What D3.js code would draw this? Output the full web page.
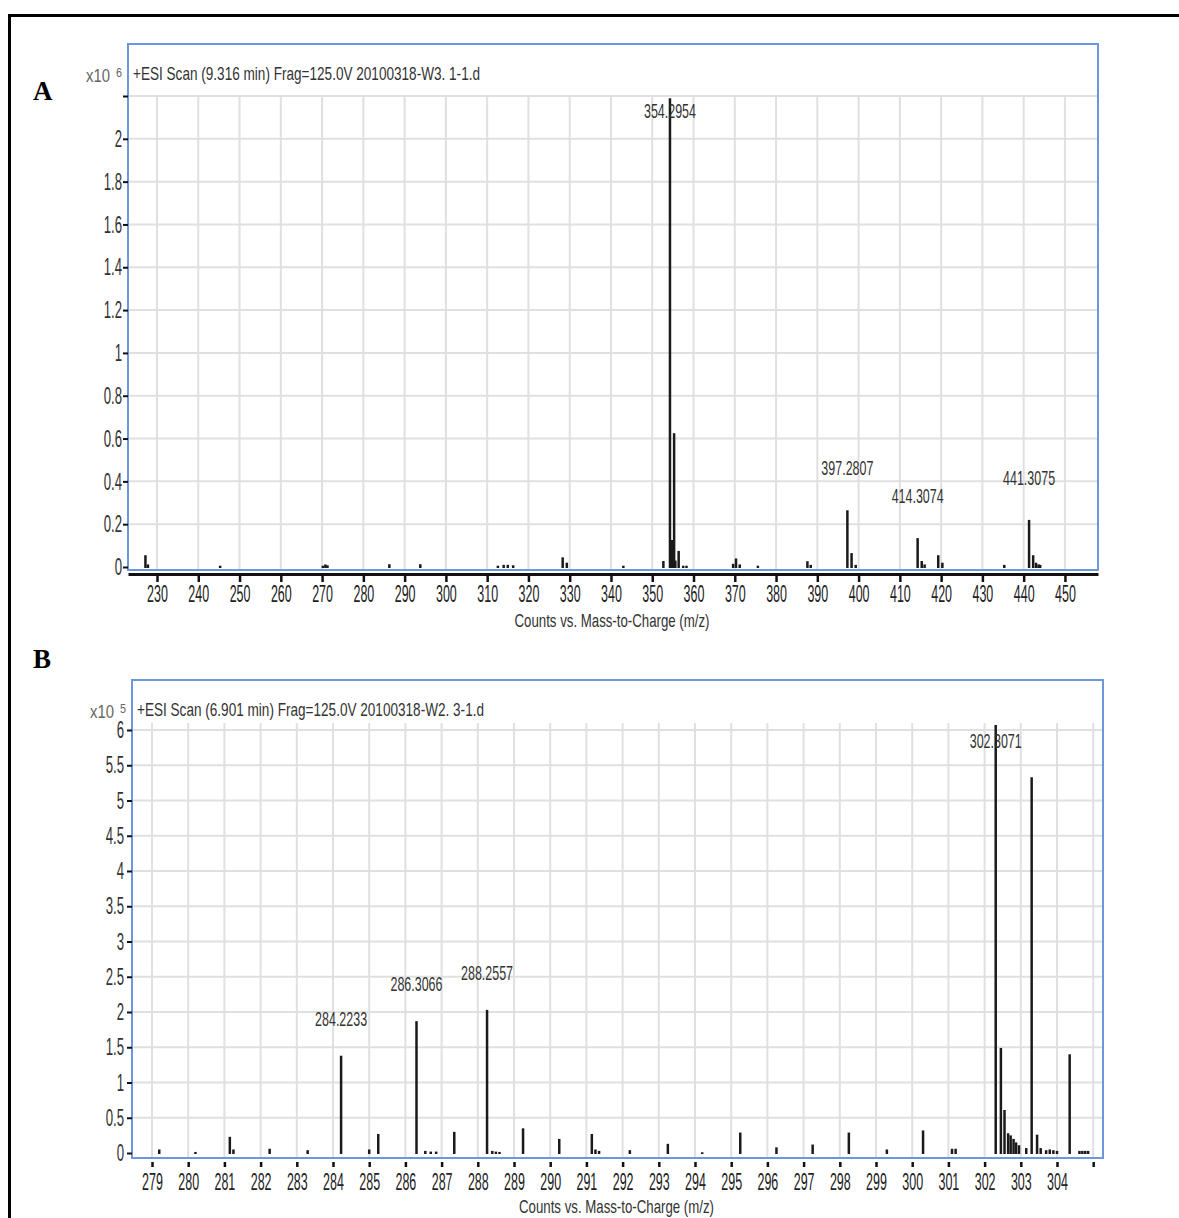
<!DOCTYPE html>
<html>
<head>
<meta charset="utf-8">
<script src="https://cdn.jsdelivr.net/npm/d3@7/dist/d3.min.js"></script>
<style>
  body { margin: 0; background: #fff; }
  svg { display: block; }
  text { font-family: "Liberation Sans", Arial, sans-serif; }
</style>
</head>
<body>
<svg id="chart" width="1179" height="1218"></svg>
<script>
// ---- panel A : +ESI Scan (9.316 min), counts x10^6 ----
const aTitle = "+ESI Scan (9.316 min) Frag=125.0V 20100318-W3. 1-1.d";
const aTickX = [230, 240, 250, 260, 270, 280, 290, 300, 310, 320, 330, 340, 350, 360, 370, 380, 390, 400, 410, 420, 430, 440, 450];
const aTickY = [0, 0.2, 0.4, 0.6, 0.8, 1, 1.2, 1.4, 1.6, 1.8, 2, 2.2];
const aMz = [227.2, 227.8, 245.3, 270.2, 270.8, 271.3, 286.3, 293.8, 312.6, 314.0, 315.0, 316.3, 328.3, 329.3, 343.0,
             352.7, 354.2954, 354.5, 354.8, 355.05, 355.3, 355.6, 356.4, 357.5, 358.3,
             369.6, 370.3, 371.2, 375.6, 387.6, 388.4, 397.2807, 398.3, 399.3,
             414.3074, 415.3, 416.0, 419.3, 420.3, 435.3, 441.3075, 442.3, 443.0, 443.6, 444.0];
const aInt = [0.055, 0.012, 0.006, 0.006, 0.012, 0.008, 0.013, 0.013, 0.006, 0.01, 0.01, 0.008, 0.045, 0.02, 0.006,
              0.028, 2.19, 0.126, 0.126, 0.12, 0.625, 0.03, 0.075, 0.006, 0.006,
              0.015, 0.04, 0.012, 0.006, 0.027, 0.01, 0.265, 0.065, 0.01,
              0.135, 0.028, 0.012, 0.055, 0.02, 0.01, 0.22, 0.055, 0.02, 0.012, 0.01];
const aLabels = ["354.2954", "397.2807", "414.3074", "441.3075"];

// ---- panel B : +ESI Scan (6.901 min), counts x10^5 ----
const bTitle = "+ESI Scan (6.901 min) Frag=125.0V 20100318-W2. 3-1.d";
const bTickX = [279, 280, 281, 282, 283, 284, 285, 286, 287, 288, 289, 290, 291, 292, 293, 294, 295, 296, 297, 298, 299, 300, 301, 302, 303, 304, 305];
const bTickY = [0, 0.5, 1, 1.5, 2, 2.5, 3, 3.5, 4, 4.5, 5, 5.5, 6];
const bMz = [279.2, 280.2, 281.15, 281.25, 282.25, 283.3, 284.2233, 285.0, 285.25, 286.3066, 286.55, 286.7, 286.85,
             287.35, 288.2557, 288.4, 288.5, 288.6, 289.25, 290.25, 291.15, 291.25, 291.35, 292.2, 293.25, 294.2,
             295.25, 296.25, 297.25, 298.25, 299.3, 300.3, 301.1, 301.2,
             302.3071, 302.45, 302.55, 302.65, 302.72, 302.8, 302.87, 302.95, 303.15, 303.3, 303.45, 303.55,
             303.7, 303.8, 303.9, 304.0, 304.35, 304.62, 304.7, 304.78, 304.86];
const bInt = [0.05, 0.015, 0.23, 0.05, 0.06, 0.04, 1.38, 0.05, 0.27, 1.87, 0.03, 0.02, 0.02,
              0.3, 2.03, 0.03, 0.02, 0.015, 0.35, 0.2, 0.27, 0.05, 0.03, 0.04, 0.13, 0.01,
              0.29, 0.08, 0.12, 0.29, 0.05, 0.32, 0.06, 0.06,
              6.07, 1.49, 0.61, 0.28, 0.25, 0.2, 0.15, 0.11, 0.07, 5.33, 0.26, 0.07,
              0.04, 0.05, 0.04, 0.03, 1.4, 0.03, 0.03, 0.03, 0.03];
const bLabels = ["302.3071", "284.2233", "286.3066", "288.2557"];

const svg = d3.select("#chart");

// outer frame of the figure
svg.append("path")
  .attr("d", "M9.5,1218 V15.5 H1179")
  .attr("fill", "none").attr("stroke", "#000").attr("stroke-width", 3);

// panel letters
svg.append("text").attr("x", 33).attr("y", 100).text("A")
  .style("font-family", "'Liberation Serif', serif").style("font-weight", "bold").style("font-size", "27px");
svg.append("text").attr("x", 33).attr("y", 668).text("B")
  .style("font-family", "'Liberation Serif', serif").style("font-weight", "bold").style("font-size", "27px");

// squeeze text horizontally (the instrument font is very narrow)
function squeeze(sel, sx, x0) {
  sel.attr("transform", `scale(${sx},1)`).attr("x", x0 / sx);
}

function drawPanel(o) {
  const x = d3.scaleLinear().domain(o.xDomain).range([o.left, o.right]);
  const y = d3.scaleLinear().domain([0, o.yTop]).range([o.y0, o.yTopPx]);
  const g = svg.append("g");

  // grid
  g.append("g").selectAll("line").data(o.tickX).join("line")
    .attr("x1", d => x(d)).attr("x2", d => x(d))
    .attr("y1", o.gridTop).attr("y2", o.bottom)
    .attr("stroke", "#e0e0e0").attr("stroke-width", 2);
  g.append("g").selectAll("line").data(o.tickY.filter(d => d > 0)).join("line")
    .attr("x1", o.left).attr("x2", o.right)
    .attr("y1", d => y(d)).attr("y2", d => y(d))
    .attr("stroke", "#e0e0e0").attr("stroke-width", 2);

  // peaks
  g.append("g").selectAll("line").data(o.mz).join("line")
    .attr("x1", d => x(d)).attr("x2", d => x(d))
    .attr("y1", o.y0 + 1).attr("y2", (d, i) => y(o.int[i]))
    .attr("stroke", "#1a1a1a").attr("stroke-width", 2.5);

  // peak labels
  o.labels.forEach(lab => {
    const m = +lab;
    const i = o.mz.indexOf(m);
    const ly = Math.max(y(o.int[i]) - o.labGap, o.labMin);
    g.append("text").attr("x", x(m) - 26).attr("y", ly)
      .attr("textLength", 52).attr("lengthAdjust", "spacingAndGlyphs")
      .style("font-size", "21px").style("fill", "#333").text(lab);
  });

  // plot frame
  g.append("rect")
    .attr("x", o.left).attr("y", o.top)
    .attr("width", o.right - o.left).attr("height", o.bottom - o.top)
    .attr("fill", "none").attr("stroke", "#6e96dc").attr("stroke-width", 2);

  // title and exponent
  g.append("text").attr("x", o.left + 5).attr("y", o.top + 36)
    .attr("textLength", 347).attr("lengthAdjust", "spacingAndGlyphs")
    .style("font-size", "19px").style("fill", "#333").text(o.title);
  g.append("text").attr("x", o.left - 42).attr("y", o.top + 38)
    .attr("textLength", 24).attr("lengthAdjust", "spacingAndGlyphs")
    .style("font-size", "18px").style("fill", "#666").text("x10");
  g.append("text").attr("x", o.left - 12).attr("y", o.top + 33)
    .attr("textLength", 6).attr("lengthAdjust", "spacingAndGlyphs")
    .style("font-size", "13px").style("fill", "#666").text(o.exp);

  // y axis
  const ya = g.append("g").attr("transform", `translate(${o.left},0)`)
    .call(d3.axisLeft(y).tickValues(o.tickY).tickSize(5).tickSizeOuter(0)
      .tickFormat(d => o.yLabelled(d) ? d3.format("~g")(d) : ""));
  ya.select(".domain").remove();
  ya.selectAll(".tick line").attr("stroke", "#111").attr("stroke-width", 2);
  ya.selectAll(".tick text").style("font-size", "24px").style("fill", "#333")
    .call(squeeze, 0.55, -o.yPad);

  // x axis
  const xa = g.append("g").attr("transform", `translate(0,${o.axisY})`)
    .call(d3.axisBottom(x).tickValues(o.tickX).tickSize(o.tickLen).tickSizeOuter(0)
      .tickPadding(o.xPad).tickFormat(d => o.xLabelled(d) ? d : ""));
  if (o.axisLine) {
    xa.select(".domain").attr("stroke", "#111").attr("stroke-width", 3);
  } else {
    xa.select(".domain").remove();
  }
  xa.selectAll(".tick line").attr("stroke", "#111").attr("stroke-width", 2.5);
  xa.selectAll(".tick text").style("font-size", "24px").style("fill", "#222")
    .call(squeeze, 0.52, 0);

  // x axis title
  g.append("text").attr("x", (o.left + o.right) / 2 + o.capShift).attr("y", o.capY)
    .attr("text-anchor", "middle")
    .attr("textLength", 195).attr("lengthAdjust", "spacingAndGlyphs")
    .style("font-size", "19px").style("fill", "#333")
    .text("Counts vs. Mass-to-Charge (m/z)");
}

drawPanel({
  title: aTitle, exp: "6",
  tickX: aTickX, tickY: aTickY, mz: aMz, int: aInt, labels: aLabels,
  left: 128, right: 1098, top: 44, bottom: 570,
  xDomain: [230 - 29 / 4.127, 230 + (1098 - 157) / 4.127],
  y0: 567, yTop: 2.2, yTopPx: 96, gridTop: 95,
  yLabelled: d => d <= 2, xLabelled: () => true,
  yPad: 6, axisY: 574, tickLen: 8, xPad: 3, axisLine: true,
  labGap: 35, labMin: 118, capY: 627, capShift: -1
});

drawPanel({
  title: bTitle, exp: "5",
  tickX: bTickX, tickY: bTickY, mz: bMz, int: bInt, labels: bLabels,
  left: 132, right: 1103, top: 680, bottom: 1158,
  xDomain: [279 - 20 / 36.2, 279 + (1103 - 152) / 36.2],
  y0: 1153, yTop: 6, yTopPx: 730, gridTop: 723,
  yLabelled: () => true, xLabelled: d => d <= 304,
  yPad: 8, axisY: 1162, tickLen: 5, xPad: 6, axisLine: false,
  labGap: 30, labMin: 748, capY: 1213, capShift: -1
});
</script>
</body>
</html>
